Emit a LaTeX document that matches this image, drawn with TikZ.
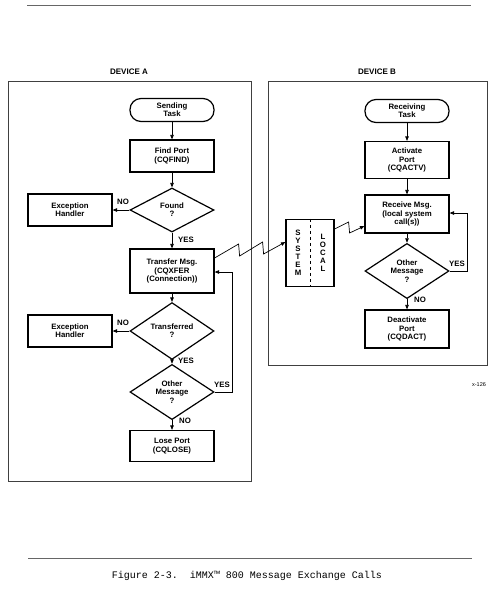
\documentclass[tikz,border=0pt]{standalone}
\usepackage{fontspec}
\setmainfont{Liberation Sans}
\newfontfamily\capfont{Liberation Mono}
\usetikzlibrary{shapes.geometric,arrows.meta}
\begin{document}
\begin{tikzpicture}[x=1pt,y=-1pt,
  lbl/.style={font=\fontsize{7.8}{8.3}\selectfont\bfseries, align=center},
  proc/.style={lbl, draw, line width=1.2pt, minimum width=84pt, inner sep=0pt},
  term/.style={proc, rounded corners=11pt, minimum height=23pt},
  dec/.style={lbl, draw, diamond, line width=1.2pt, minimum width=84pt, minimum height=44pt, inner sep=0pt},
  arr/.style={line width=0.7pt, -{Triangle[length=4.5pt,width=3.5pt]}},
  yn/.style={font=\fontsize{7.8}{8}\selectfont\bfseries},
  frame/.style={draw=black!75, line width=0.8pt},
  rule/.style={draw=black!60, line width=0.8pt},
  vtext/.style={font=\fontsize{7.8}{8}\selectfont\bfseries, align=center}
]
\useasboundingbox (0,0) rectangle (491,590);
% rules
\draw[rule] (27,5) -- (471,5);
\draw[rule] (28,558) -- (472,558);
% device frames
\draw[frame] (8,81) rectangle (251,481);
\draw[frame] (268,81) rectangle (487,365);
\node[font=\fontsize{8}{9}\selectfont\bfseries] (devA) at (129,72) {DEVICE A};
\node[font=\fontsize{8}{9}\selectfont\bfseries] (devB) at (377,72) {DEVICE B};
% Device A
\node[term] (st) at (172,110) {Sending\\Task};
\node[proc, minimum height=32pt] (fp) at (172,156) {Find Port\\(CQFIND)};
\node[dec] (found) at (172,210) {Found\\?};
\node[proc, minimum height=32pt] (ex1) at (70,210) {Exception\\Handler};
\node[proc, minimum height=44pt] (xfer) at (172,271) {Transfer Msg.\\(CQXFER\\(Connection))};
\node[dec] (trans) at (172,331) {Transferred\\?};
\node[proc, minimum height=32pt] (ex2) at (70,331) {Exception\\Handler};
\node[dec] (othA) at (172,392) {Other\\Message\\?};
\node[proc, minimum height=31pt] (lose) at (172,446) {Lose Port\\(CQLOSE)};
% Device B
\node[term] (rt) at (407,111) {Receiving\\Task};
\node[proc, minimum height=37pt] (act) at (407,160) {Activate\\Port\\(CQACTV)};
\node[proc, minimum height=38pt] (recv) at (407,214) {Receive Msg.\\(local system\\call(s))};
\node[dec] (othB) at (407,271) {Other\\Message\\?};
\node[proc, minimum height=38pt] (deact) at (407,329) {Deactivate\\Port\\(CQDACT)};
% system/local box
\node[draw, line width=1.2pt, minimum width=48pt, minimum height=67pt, inner sep=0pt] (sys) at (310,253) {};
\draw[dashed, line width=0.6pt] (sys.north) -- (sys.south);
\node[vtext] (systxt) at (298,253) {S\\Y\\S\\T\\E\\M};
\node[vtext] (loctxt) at (323,253) {L\\O\\C\\A\\L};
% arrows A
\draw[arr] (st.south) -- (fp.north);
\draw[arr] (fp.south) -- (found.north);
\draw[arr] (found.west) -- (ex1.east);
\draw[arr] (found.south) -- (xfer.north);
\draw[arr] (xfer.south) -- (trans.north);
\draw[arr] (trans.west) -- (ex2.east);
\draw[arr] (trans.south) -- (othA.north);
\draw[arr] (othA.south) -- (lose.north);
\coordinate (la) at (232,272);
\draw[arr] (othA.east) -- (othA.east -| la) -- (la) -- (la -| xfer.east);
\node[yn] (noA1) at (123,202) {NO};
\node[yn] (yesA1) at (186,240) {YES};
\node[yn] (noA2) at (123,323) {NO};
\node[yn] (yesA2) at (186,361) {YES};
\node[yn] (yesA3) at (222,385) {YES};
\node[yn] (noA3) at (185,421) {NO};
% zigzags
\draw[arr] ([yshift=13pt]xfer.east) -- ++(24,-14) -- ++(1,12) -- ++(23,-14) -- ++(1,12) -- ([yshift=11pt]sys.west);
\draw[arr] ([yshift=24pt]sys.east) -- ++(14,-7) -- ++(1,11) -- ([yshift=-12pt]recv.west);
% arrows B
\draw[arr] (rt.south) -- (act.north);
\draw[arr] (act.south) -- (recv.north);
\draw[arr] (recv.south) -- (othB.north);
\draw[arr] (othB.south) -- (deact.north);
\coordinate (lb) at (467,213);
\draw[arr] (othB.east) -- (othB.east -| lb) -- (lb) -- (lb -| recv.east);
\node[yn] (yesB) at (457,264) {YES};
\node[yn] (noB) at (420,300) {NO};
\node[font=\fontsize{5.5}{6}\selectfont] (xref) at (479,385) {x-126};
% caption
\node[font=\capfont\fontsize{10}{12}\selectfont] (cap) at (247,576) {Figure 2-3.~~iMMX™ 800 Message Exchange Calls};
\end{tikzpicture}
\end{document}
